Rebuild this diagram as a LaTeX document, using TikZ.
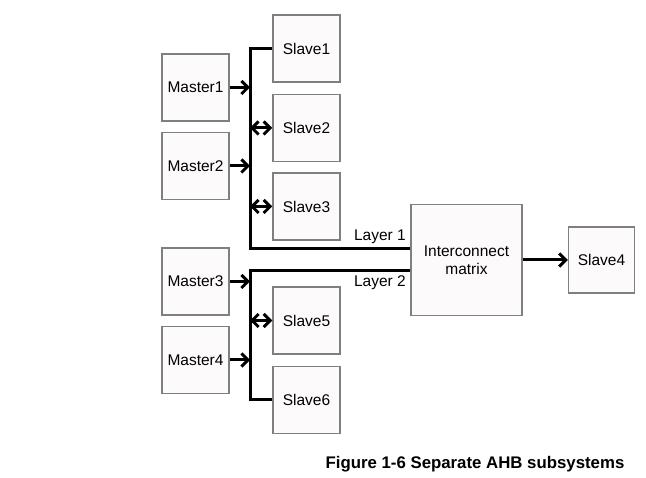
\documentclass[tikz,border=0pt]{standalone}
\usepackage{fontspec}
\setmainfont{Liberation Sans}
\usetikzlibrary{positioning, arrows.meta}
\definecolor{boxfill}{HTML}{FCFAFA}
\definecolor{boxline}{HTML}{7F7F7F}

\begin{document}
\begin{tikzpicture}[
	x=1pt, y=-1pt,
	font=\fontsize{15.5}{18}\selectfont,
	>={Straight Barb[length=6.5pt,width=13pt]},
	box/.style = {rectangle, draw=boxline, fill=boxfill, line width=1.5pt,
		minimum width=#1, minimum height=#1, inner sep=0pt, align=center},
	box/.default = 67pt,
	bus/.style = {line width=3pt}
	]
	\useasboundingbox (0,0) rectangle (646,478);
	
	\node (m1) [box] at (195.5,87.5) {Master1};
	\node (m2) [box,below=10pt of m1] {Master2};
	\node (m3) [box] at (195.5,281.5) {Master3};
	\node (m4) [box,below=10pt of m3] {Master4};
	\node (s1) [box] at (306.5,48.5) {Slave1};
	\node (s2) [box,below=11pt of s1] {Slave2};
	\node (s3) [box,below=10pt of s2] {Slave3};
	\node (s5) [box] at (306.5,320.5) {Slave5};
	\node (s6) [box,below=11pt of s5] {Slave6};
	\node (ic) [box=111pt] at (466.5,260) {Interconnect\\matrix};
	\node (s4) [box=66pt,right=45pt of ic] {Slave4};
	\coordinate (b1) at (250,248.5);
	\coordinate (b2) at (250,271);
	%
	\draw[bus] (s1.west) -| (b1) -- (b1 -| ic.west)
		node[pos=1, above left, inner sep=3pt] {Layer 1};
	\draw[bus] (b2 -| ic.west) node[below left, inner sep=3pt] {Layer 2}
		-- (b2) |- (s6.west);
	\draw[bus,->] (m1) -- (m1 -| b1);
	\draw[bus,->] (m2) -- (m2 -| b1);
	\draw[bus,<->] (s2 -| b1) -- (s2.west);
	\draw[bus,<->] (s3 -| b1) -- (s3.west);
	\draw[bus,->] (m3) -- (m3 -| b2);
	\draw[bus,->] (m4) -- (m4 -| b2);
	\draw[bus,<->] (s5 -| b2) -- (s5.west);
	\draw[bus,->] (ic) -- (s4);
	
	\node (cap) [font=\fontsize{16.8}{20}\selectfont\bfseries] at (475,464)
		{Figure 1-6 Separate AHB subsystems};
\end{tikzpicture}
\end{document}
